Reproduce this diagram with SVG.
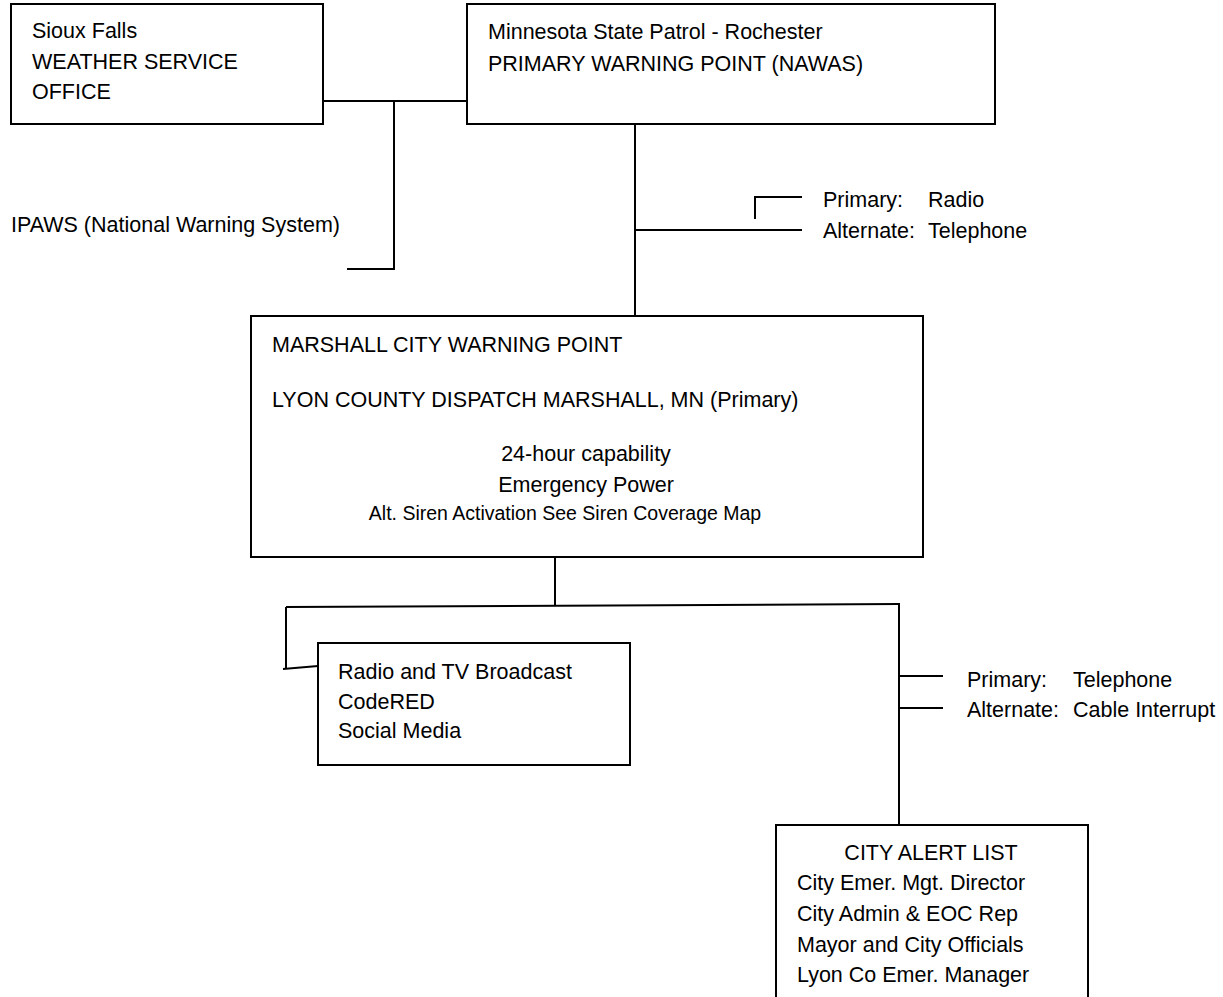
<svg xmlns="http://www.w3.org/2000/svg" width="1223" height="997" viewBox="0 0 1223 997">
<style>
text{font-family:"Liberation Sans",Arial,sans-serif;font-size:21.5px;fill:#000}
.box{fill:#fff;stroke:#000;stroke-width:2}
.ln{fill:none;stroke:#000;stroke-width:2}
.sm{font-size:19.5px}
</style>
<rect width="1223" height="997" fill="#fff"/>
<g id="connectors">
<polyline class="ln" points="323,101 467,101"/>
<polyline class="ln" points="394,101 394,269 347,269"/>
<polyline class="ln" points="635,124 635,317"/>
<polyline class="ln" points="635,230 802,230"/>
<polyline class="ln" points="755,219 755,197 802,197"/>
<polyline class="ln" points="555,557 555,606"/>
<polyline class="ln" points="286,607 900,604"/>
<polyline class="ln" points="286,607 286,669"/>
<polyline class="ln" points="283,669 318,666"/>
<polyline class="ln" points="899,604 899,825"/>
<polyline class="ln" points="899,676 943,676"/>
<polyline class="ln" points="899,708 943,708"/>
</g>
<g id="sioux-falls">
<rect class="box" x="11" y="4" width="312" height="120"/>
<text x="32" y="38">Sioux Falls</text>
<text x="32" y="69">WEATHER SERVICE</text>
<text x="32" y="99">OFFICE</text>
</g>
<g id="msp-rochester">
<rect class="box" x="467" y="4" width="528" height="120"/>
<text x="488" y="39">Minnesota State Patrol - Rochester</text>
<text x="488" y="71">PRIMARY WARNING POINT (NAWAS)</text>
</g>
<g id="ipaws">
<text x="11" y="232">IPAWS (National Warning System)</text>
</g>
<g id="label-radio">
<text x="823" y="207">Primary:</text>
<text x="928" y="207">Radio</text>
<text x="823" y="238">Alternate:</text>
<text x="928" y="238">Telephone</text>
</g>
<g id="marshall">
<rect class="box" x="251" y="316" width="672" height="241"/>
<text x="272" y="352">MARSHALL CITY WARNING POINT</text>
<text x="272" y="407">LYON COUNTY DISPATCH MARSHALL, MN (Primary)</text>
<text x="586" y="461" text-anchor="middle">24-hour capability</text>
<text x="586" y="492" text-anchor="middle">Emergency Power</text>
<text class="sm" x="565" y="520" text-anchor="middle">Alt. Siren Activation See Siren Coverage Map</text>
</g>
<g id="broadcast">
<rect class="box" x="318" y="643" width="312" height="122"/>
<text x="338" y="679">Radio and TV Broadcast</text>
<text x="338" y="709">CodeRED</text>
<text x="338" y="738">Social Media</text>
</g>
<g id="label-telephone">
<text x="967" y="687">Primary:</text>
<text x="1073" y="687">Telephone</text>
<text x="967" y="717">Alternate:</text>
<text x="1073" y="717">Cable Interrupt</text>
</g>
<g id="city-alert-list">
<rect class="box" x="776" y="825" width="312" height="180"/>
<text x="931" y="860" text-anchor="middle">CITY ALERT LIST</text>
<text x="797" y="890">City Emer. Mgt. Director</text>
<text x="797" y="921">City Admin &amp; EOC Rep</text>
<text x="797" y="952">Mayor and City Officials</text>
<text x="797" y="982">Lyon Co Emer. Manager</text>
</g>
</svg>
